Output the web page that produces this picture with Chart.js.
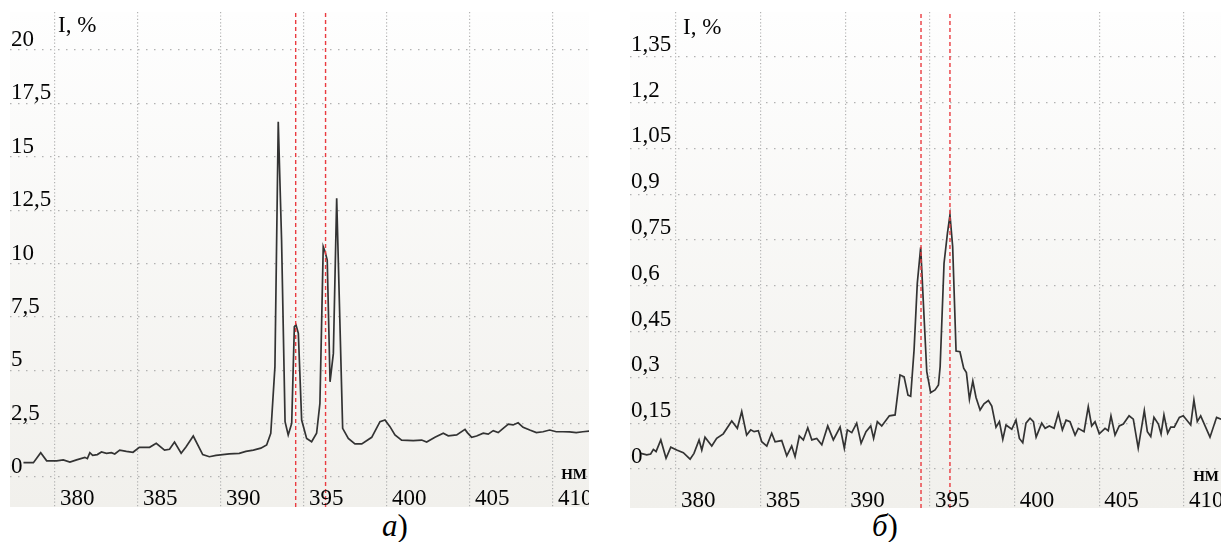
<!DOCTYPE html>
<html lang="ru">
<head>
<meta charset="utf-8">
<title>Спектры</title>
<script src="https://cdn.jsdelivr.net/npm/chart.js@4.4.1/dist/chart.umd.min.js"></script>
<style>
  body { margin: 0; background: #fff; width: 1221px; height: 542px; position: relative; overflow: hidden; font-family: "Liberation Serif", serif; }
  .panel { position: absolute; top: 12px; background: linear-gradient(#fefefe, #f1f0ec); }
  #panelA { left: 10px; width: 579px; height: 495px; }
  #panelB { left: 630px; width: 591px; height: 496px; }
  .caption { position: absolute; top: 510px; font-size: 31px; line-height: 31px; color: #000; }
</style>
</head>
<body>
<div class="panel" id="panelA"><canvas id="chartA"></canvas></div>
<div class="panel" id="panelB"><canvas id="chartB"></canvas></div>
<div class="caption" style="left:382px"><i>а</i>)</div>
<div class="caption" style="left:872px"><i>б</i>)</div>
<script>
// --- Datos: espectro a) ---
const wlA = [378.1, 378.7, 379.14, 379.5, 380.1, 380.5, 380.9, 381.3, 381.8, 381.95, 382.1, 382.27, 382.55, 382.8,
  383.1, 383.4, 383.6, 383.9, 384.3, 384.7, 385.08, 385.7, 386.1, 386.6, 386.9, 387.2, 387.6, 387.9, 388.33, 388.9,
  389.3, 389.7, 390.5, 391.1, 391.5, 391.95, 392.4, 392.75, 393.0, 393.25, 393.45, 393.65, 393.86, 394.05, 394.26,
  394.42, 394.52, 394.66, 394.86, 395.16, 395.46, 395.76, 395.96, 396.16, 396.27, 396.4, 396.57, 396.77, 396.97,
  397.33, 397.67, 398.07, 398.48, 399.08, 399.58, 399.88, 400.18, 400.48, 400.88, 401.58, 402.09, 402.39, 402.89,
  403.39, 403.69, 404.2, 404.7, 404.84, 405.1, 405.4, 405.8, 406.1, 406.4, 406.7, 407.0, 407.31, 407.6, 407.9,
  408.2, 408.6, 409.0, 409.4, 409.8, 410.2, 410.6, 411.0, 411.4, 411.8, 412.2];
const intA = [0.67, 0.67, 1.14, 0.76, 0.76, 0.8, 0.7, 0.8, 0.92, 0.86, 1.14, 1.01, 1.05, 1.17,
  1.11, 1.14, 1.08, 1.26, 1.2, 1.16, 1.39, 1.39, 1.58, 1.26, 1.3, 1.64, 1.11, 1.42, 1.92, 1.05,
  0.95, 1.01, 1.08, 1.11, 1.2, 1.26, 1.35, 1.5, 2.05, 5.17, 16.64, 11.1, 2.59, 1.97, 2.51,
  7.04, 7.12, 6.73, 2.67, 1.81, 1.65, 2.05, 3.45, 10.79, 10.55, 10.16, 4.46, 5.79, 13.05,
  2.28, 1.81, 1.55, 1.55, 1.86, 2.59, 2.67, 2.36, 1.97, 1.73, 1.7, 1.73, 1.64, 1.86,
  2.05, 1.93, 1.97, 2.23, 2.08, 1.86, 1.92, 2.05, 2.01, 2.17, 2.08, 2.28, 2.48, 2.44, 2.54,
  2.33, 2.2, 2.08, 2.12, 2.2, 2.12, 2.12, 2.11, 2.08, 2.12, 2.15];
const marcasA = [394.5, 396.3];
const yTicksA = [0, 2.5, 5, 7.5, 10, 12.5, 15, 17.5, 20];
const yLabelsA = ['0', '2,5', '5', '7,5', '10', '12,5', '15', '17,5', '20'];

// --- Datos: espectro б) ---
const wlB = [377.92, 378.27, 378.5, 378.66, 378.82, 379.1, 379.41, 379.69, 380.04, 380.43, 380.83, 381.06, 381.36,
  381.52, 381.71, 382.11, 382.4, 382.79, 383.29, 383.62, 383.88, 384.17, 384.41, 384.61, 384.86, 385.06, 385.36,
  385.65, 385.85, 386.24, 386.54, 386.83, 387.03, 387.28, 387.52, 387.78, 388.02, 388.31, 388.61, 388.96, 389.29,
  389.69, 389.94, 390.12, 390.38, 390.67, 390.93, 391.22, 391.5, 391.67, 391.89, 392.15, 392.6, 392.94, 393.23,
  393.47, 393.7, 393.86, 394.06, 394.25, 394.45, 394.61, 394.81, 395.04, 395.3, 395.5, 395.6, 395.83, 396.03,
  396.18, 396.34, 396.54, 396.77, 396.99, 397.15, 397.33, 397.53, 397.72, 397.96, 398.19, 398.45, 398.65, 398.9,
  399.1, 399.3, 399.49, 399.83, 400.08, 400.28, 400.48, 400.67, 400.91, 401.11, 401.27, 401.6, 401.8, 402.05,
  402.33, 402.58, 402.82, 403.04, 403.27, 403.57, 403.76, 404.1, 404.35, 404.55, 404.75, 405.0, 405.34, 405.53,
  405.69, 405.93, 406.18, 406.42, 406.76, 407.01, 407.3, 407.66, 407.84, 408.04, 408.23, 408.49, 408.65, 408.82,
  409.04, 409.22, 409.43, 409.73, 409.96, 410.4, 410.59, 410.79, 410.99, 411.54, 411.93, 412.2];
const intB = [0.051, 0.046, 0.049, 0.064, 0.057, 0.095, 0.035, 0.071, 0.062, 0.053, 0.032, 0.051, 0.095,
  0.062, 0.104, 0.075, 0.1, 0.115, 0.157, 0.133, 0.188, 0.111, 0.128, 0.122, 0.125, 0.089, 0.075,
  0.117, 0.089, 0.093, 0.043, 0.075, 0.04, 0.108, 0.095, 0.135, 0.095, 0.1, 0.079, 0.141, 0.095,
  0.137, 0.068, 0.128, 0.119, 0.15, 0.084, 0.122, 0.141, 0.1, 0.155, 0.141, 0.174, 0.177, 0.308,
  0.302, 0.242, 0.238, 0.39, 0.608, 0.726, 0.543, 0.319, 0.25, 0.259, 0.275, 0.335, 0.674, 0.772,
  0.832, 0.728, 0.386, 0.384, 0.33, 0.316, 0.228, 0.288, 0.234, 0.193, 0.213, 0.224, 0.206, 0.137,
  0.155, 0.097, 0.144, 0.13, 0.16, 0.1, 0.086, 0.15, 0.166, 0.155, 0.104, 0.15, 0.133, 0.141,
  0.133, 0.182, 0.128, 0.16, 0.155, 0.111, 0.133, 0.122, 0.204, 0.141, 0.155, 0.115, 0.133, 0.125,
  0.174, 0.111, 0.141, 0.147, 0.174, 0.163, 0.068, 0.191, 0.122, 0.106, 0.169, 0.147, 0.115, 0.177,
  0.117, 0.137, 0.137, 0.169, 0.174, 0.144, 0.226, 0.155, 0.174, 0.104, 0.169, 0.163];
const marcasB = [394.47, 396.18];
const yTicksB = [0, 0.15, 0.3, 0.45, 0.6, 0.75, 0.9, 1.05, 1.2, 1.35];
const yLabelsB = ['0', '0,15', '0,3', '0,45', '0,6', '0,75', '0,9', '1,05', '1,2', '1,35'];

// --- Eje X común ---
const xTicks = [380, 385, 390, 395, 400, 405, 410];
const xLabels = ['380', '385', '390', '395', '400', '405', '410'];

// --- Textos dentro del área ---
const etiquetas = {
  id: 'etiquetas',
  afterDraw(chart, args, opts) {
    const { ctx, chartArea } = chart;
    const x = chart.scales.x, y = chart.scales.y;
    ctx.save();
    ctx.fillStyle = '#050505';
    ctx.font = '23px "Liberation Serif"';
    ctx.textAlign = 'left';
    ctx.textBaseline = 'alphabetic';
    opts.yTicks.forEach((v, i) => {
      ctx.fillText(opts.yLabels[i], chartArea.left + 1, y.getPixelForValue(v) + opts.yShift);
    });
    xTicks.forEach((v, i) => {
      ctx.fillText(xLabels[i], x.getPixelForValue(v) + 5, opts.xLabelY);
    });
    ctx.fillText('I, %', x.getPixelForValue(xTicks[0]) + opts.unitDx, opts.unitY);
    ctx.font = 'bold 15px "Liberation Serif"';
    ctx.textAlign = 'right';
    ctx.fillText('НМ', chartArea.right - 2, opts.nmY);
    ctx.restore();
  }
};

function crearGrafica(canvasId, cfg) {
  const puntos = cfg.wl.map((w, i) => ({ x: w, y: cfg.int[i] }));
  const lineasRojas = cfg.marcas.map(m => ({
    data: [{ x: m, y: cfg.yMin }, { x: m, y: cfg.yMax }],
    borderColor: '#ea3b40',
    borderWidth: 1.4,
    borderDash: [4, 3],
    pointRadius: 0,
    order: 0
  }));

  return new Chart(document.getElementById(canvasId), {
    type: 'line',
    data: {
      datasets: [{
        data: puntos,
        borderColor: '#333333',
        borderWidth: 1.7,
        pointRadius: 0,
        tension: 0,
        order: 1
      }, ...lineasRojas]
    },
    options: {
      responsive: true,
      maintainAspectRatio: false,
      animation: false,
      layout: { padding: 0 },
      plugins: {
        legend: { display: false },
        tooltip: { enabled: false },
        etiquetas: cfg.textos
      },
      scales: {
        x: {
          type: 'linear',
          min: cfg.xMin,
          max: cfg.xMax,
          ticks: { display: false },
          afterBuildTicks: s => { s.ticks = xTicks.map(v => ({ value: v })); },
          afterFit: s => { s.height = 0; },
          grid: { color: '#b2b2b2', lineWidth: 1.2, drawTicks: false },
          border: { display: false, dash: [1.2, 2.2] }
        },
        y: {
          type: 'linear',
          min: cfg.yMin,
          max: cfg.yMax,
          ticks: { display: false },
          afterBuildTicks: s => { s.ticks = cfg.yTicks.map(v => ({ value: v })); },
          afterFit: s => { s.width = 0; },
          grid: { color: '#b2b2b2', lineWidth: 1.2, drawTicks: false },
          border: { display: false, dash: [1.5, 6.5] }
        }
      }
    },
    plugins: [etiquetas]
  });
}

// --- Inicializar ---
crearGrafica('chartA', {
  wl: wlA, int: intA, marcas: marcasA, yTicks: yTicksA,
  xMin: 377.29, xMax: 412.17, yMin: -1.405, yMax: 21.78,
  textos: { yTicks: yTicksA, yLabels: yLabelsA, yShift: -4, xLabelY: 493, unitDx: 3, unitY: 20, nmY: 467 }
});

crearGrafica('chartB', {
  wl: wlB, int: intB, marcas: marcasB, yTicks: yTicksB,
  xMin: 377.28, xMax: 412.19, yMin: -0.128, yMax: 1.497,
  textos: { yTicks: yTicksB, yLabels: yLabelsB, yShift: -6, xLabelY: 495, unitDx: 7, unitY: 22, nmY: 469 }
});
</script>
</body>
</html>
